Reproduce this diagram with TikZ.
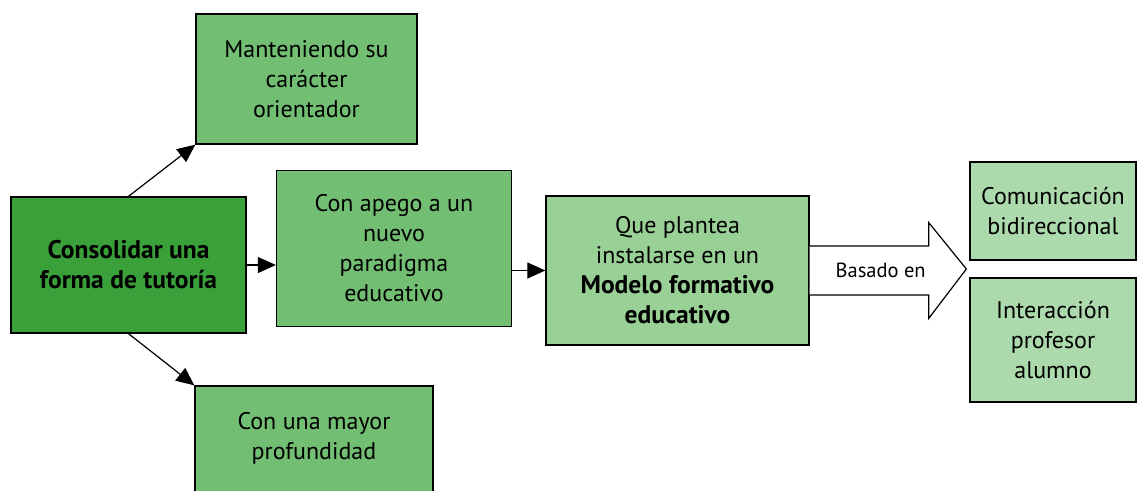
\documentclass[tikz,border=0pt]{standalone}
\usepackage{fontspec}
\setmainfont{PT Sans}
\usetikzlibrary{positioning,calc,arrows.meta}
\definecolor{verdeosc}{RGB}{58,160,58}
\definecolor{verdemed}{RGB}{114,190,114}
\definecolor{verdeclaro}{RGB}{153,208,150}
\definecolor{verdepal}{RGB}{172,218,172}
\newcommand*{\negr}[1]{{\fontsize{25.5}{30}\selectfont\bfseries #1}}

\begin{document}
\begin{tikzpicture}[x=1pt,y=-1pt,
    caja/.style={draw=black,line width=1.3pt,align=center,inner sep=0pt,
      font=\fontsize{24}{30}\selectfont},
    flecha/.style={-{Triangle[length=18pt,width=16pt]},line width=1.2pt}]
    \useasboundingbox (0,0) rectangle (1137,490);
    \node[caja,fill=verdeosc,minimum width=235pt,minimum height=136pt]
      (consolidar) at (128.5,265) {\negr{Consolidar una}\\\negr{forma de tutoría}};
    \node[caja,fill=verdemed,minimum width=221pt,minimum height=130pt]
      (manteniendo) at (306.5,79) {Manteniendo su\\carácter\\orientador};
    \node[caja,fill=verdemed,minimum width=235pt,minimum height=156pt]
      (apego) at (394,248.5) {Con apego a un\\nuevo\\paradigma\\educativo};
    \node[caja,fill=verdemed,minimum width=238pt,minimum height=130pt]
      (mayor) at (314,451) {Con una mayor\\profundidad\\\mbox{}};
    \node[caja,fill=verdeclaro,minimum width=263pt,minimum height=149pt]
      (modelo) at (677.5,270.5) {Que plantea\\instalarse en un\\\negr{Modelo formativo}\\\negr{educativo}};
    \node[caja,fill=verdepal,minimum width=166pt,minimum height=98pt]
      (comunicacion) at (1053,211) {Comunicación\\bidireccional};
    \node[caja,fill=verdepal,minimum width=166pt,minimum height=124pt]
      (interaccion) at (1053,340) {Interacción\\profesor\\alumno};
    % flechas
    \draw[flecha] (consolidar.north) -- (manteniendo.south west);
    \draw[flecha] (consolidar.south) -- (mayor.north west);
    \draw[flecha] (consolidar.east) -- (apego.west |- consolidar.east);
    \draw[flecha] (apego.east |- modelo.west) -- (modelo.west);
    % flecha ancha
    \coordinate (punta) at ($(comunicacion.south west)!0.5!(interaccion.north west)+(-3,0)$);
    \draw[line width=1.2pt,fill=white]
      ($(modelo.east)+(0,-24.5)$) -- ++(119,0) -- ++(0,-23.5) -- (punta)
      -- ($(modelo.east)+(119,48)$) -- ++(0,-23.5) -- ($(modelo.east)+(0,24.5)$);
    \node[font=\fontsize{20.5}{24}\selectfont] (basado) at ($(modelo.east)+(71,0)$) {Basado en};
\end{tikzpicture}
\end{document}
